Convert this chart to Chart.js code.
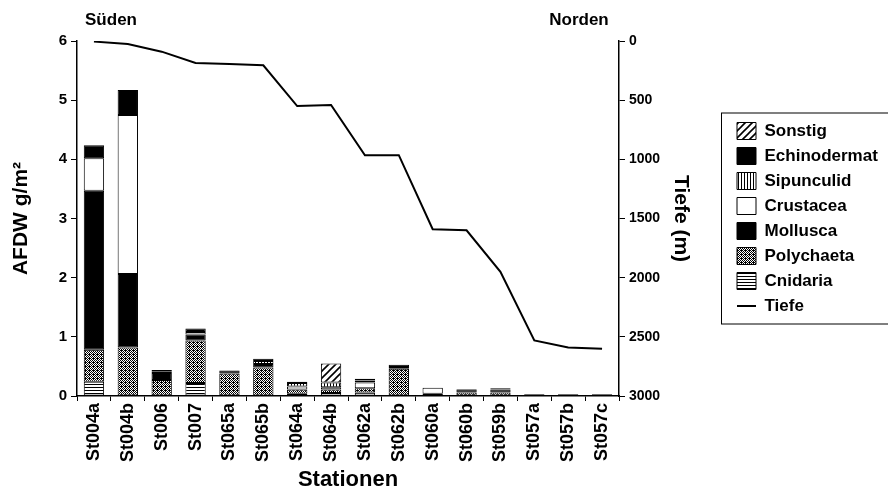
<!DOCTYPE html>
<html>
<head>
<meta charset="utf-8">
<script src="https://cdn.jsdelivr.net/npm/chart.js@4.4.1/dist/chart.umd.min.js"></script>
<style>
  html, body { margin: 0; padding: 0; background: #ffffff; }
  #wrap { width: 888px; height: 497px; }
</style>
</head>
<body>
<div id="wrap"><canvas id="c" width="888" height="497"></canvas></div>
<script>
// ---- data ----
const stations = ["St004a","St004b","St006","St007","St065a","St065b","St064a","St064b",
                  "St062a","St062b","St060a","St060b","St059b","St057a","St057b","St057c"];
const cnidaria     = [0.24, 0,    0,    0.22, 0,    0,    0.04, 0.05, 0.06, 0,    0,    0,    0,    0,    0,    0];
const polychaeta   = [0.54, 0.82, 0.27, 0.72, 0.38, 0.48, 0.07, 0.06, 0.07, 0.46, 0.04, 0.06, 0.06, 0.03, 0.01, 0.01];
const mollusca     = [2.69, 1.24, 0.12, 0.10, 0.05, 0.06, 0,    0,    0,    0,    0,    0.05, 0.05, 0,    0.02, 0.02];
const crustacea    = [0.55, 2.69, 0.02, 0.04, 0,    0,    0.05, 0.04, 0.10, 0,    0.10, 0,    0,    0,    0,    0];
const sipunculid   = [0,    0,    0,    0,    0,    0.05, 0.06, 0.08, 0.03, 0.03, 0,    0,    0,    0,    0,    0];
const echinodermat = [0.22, 0.42, 0.03, 0.06, 0,    0.04, 0.02, 0,    0.03, 0.04, 0,    0.01, 0.02, 0,    0,    0];
const sonstig      = [0,    0,    0,    0,    0,    0,    0,    0.32, 0,    0,    0,    0,    0,    0,    0,    0];
const tiefe        = [5, 25, 90, 185, 195, 205, 550, 540, 965, 965, 1590, 1600, 1950, 2530, 2590, 2600];
const leftTicks  = [0, 1, 2, 3, 4, 5, 6];
const rightTicks = [0, 500, 1000, 1500, 2000, 2500, 3000];

// ---- patterns ----
function makePattern(w, h, draw) {
  const c = document.createElement('canvas');
  c.width = w; c.height = h;
  const x = c.getContext('2d');
  x.fillStyle = '#ffffff'; x.fillRect(0, 0, w, h);
  x.fillStyle = '#000000'; x.strokeStyle = '#000000';
  draw(x);
  return document.getElementById('c').getContext('2d').createPattern(c, 'repeat');
}
const patCnidaria = makePattern(4, 3, x => { x.fillRect(0, 0, 4, 1); });
const patSipunculid = makePattern(3, 4, x => { x.fillRect(0, 0, 1, 4); });
const patPolychaeta = makePattern(4, 4, x => {
  const px = [[0,0],[2,0],[1,1],[3,1],[0,2],[2,2],[3,3],[1,3],[1,2]];
  px.forEach(p => x.fillRect(p[0], p[1], 1, 1));
});
const patSonstig = makePattern(7, 7, x => {
  x.lineWidth = 1.6;
  x.beginPath();
  x.moveTo(-1, 8); x.lineTo(8, -1);
  x.moveTo(-8, 8); x.lineTo(1, -1);
  x.moveTo(6, 8); x.lineTo(15, -1);
  x.stroke();
});

const FONT = "'Liberation Sans', Arial, Helvetica, sans-serif";
const LEGEND_W = 159;

function barSet(label, data, fill) {
  return {
    type: 'bar', label, data,
    backgroundColor: fill, borderColor: '#000000', borderWidth: 1,
    borderSkipped: false, yAxisID: 'y', stack: 's',
    categoryPercentage: 1.0, barPercentage: 0.6
  };
}

const datasets = [
  barSet('Cnidaria', cnidaria, patCnidaria),
  barSet('Polychaeta', polychaeta, patPolychaeta),
  barSet('Mollusca', mollusca, '#000000'),
  barSet('Crustacea', crustacea, '#ffffff'),
  barSet('Sipunculid', sipunculid, patSipunculid),
  barSet('Echinodermat', echinodermat, '#000000'),
  barSet('Sonstig', sonstig, patSonstig),
  {
    type: 'line', label: 'Tiefe', data: tiefe, yAxisID: 'y2',
    borderColor: '#000000', backgroundColor: '#000000', borderWidth: 2,
    pointRadius: 0, tension: 0, fill: false, order: -1
  }
];
const LINE_IDX = datasets.length - 1;

const extras = {
  id: 'extras',
  afterInit(chart) {
    const lg = chart.legend;
    if (lg && !lg._fixedW) {
      const proto = Object.getPrototypeOf(lg);
      lg.fit = function () { proto.fit.call(this); this.width = LEGEND_W; };
      lg._fixedW = true;
    }
  },
  afterDraw(chart) {
    const ctx = chart.ctx, a = chart.chartArea;
    ctx.save();
    ctx.fillStyle = '#000';
    ctx.font = "bold 17px " + FONT;
    ctx.textAlign = 'center';
    ctx.textBaseline = 'middle';
    ctx.fillText('Süden', a.left + 34, a.top - 21);
    ctx.fillText('Norden', a.right - 40, a.top - 21);
    // legend frame
    const lg = chart.legend;
    if (lg && lg.legendHitBoxes && lg.legendHitBoxes.length) {
      const hb = lg.legendHitBoxes;
      const top = hb[0].top - 10;
      const last = hb[hb.length - 1];
      const bottom = last.top + last.height + 9;
      ctx.strokeStyle = '#000';
      ctx.lineWidth = 1;
      ctx.strokeRect(lg.left - 7.5, top + 0.5, chart.width + 10, bottom - top);
    }
    ctx.restore();
  }
};

Chart.defaults.font.family = FONT;
Chart.defaults.color = '#000000';

new Chart(document.getElementById('c'), {
  data: { labels: stations, datasets },
  options: {
    responsive: false,
    animation: false,
    devicePixelRatio: 1,
    layout: { padding: { top: 41, left: 0, right: 0, bottom: 0 } },
    plugins: {
      tooltip: { enabled: false },
      legend: {
        position: 'right',
        fullSize: false,
        align: 'center',
        labels: {
          usePointStyle: true,
          pointStyleWidth: 19,
          boxHeight: 19,
          padding: 8,
          color: '#000',
          font: { family: FONT, size: 17, weight: 'bold' },
          generateLabels(chart) {
            const items = Chart.defaults.plugins.legend.labels.generateLabels(chart);
            items.forEach(it => {
              if (it.datasetIndex === LINE_IDX) {
                it.pointStyle = 'line';
                it.lineWidth = 2;
                it.strokeStyle = '#000';
              } else {
                it.pointStyle = 'rect';
                it.lineWidth = 1;
                it.strokeStyle = '#000';
              }
            });
            return items;
          },
          sort(a, b) {
            const k = it => it.datasetIndex === LINE_IDX ? 100 : -it.datasetIndex;
            return k(a) - k(b);
          }
        }
      }
    },
    scales: {
      x: {
        type: 'category',
        stacked: true,
        offset: true,
        grid: { display: true, drawOnChartArea: false, drawTicks: true, tickLength: 5, offset: true, color: '#000', lineWidth: 1 },
        border: { display: true, color: '#000', width: 1.5 },
        ticks: {
          autoSkip: false, minRotation: 90, maxRotation: 90, padding: 2,
          color: '#000', font: { family: FONT, size: 18, weight: 'bold' }
        },
        title: {
          display: true, text: 'Stationen', color: '#000',
          font: { family: FONT, size: 22, weight: 'bold' },
          padding: { top: 0, bottom: 4 }
        },
        afterFit(scale) { scale.height = 101; }
      },
      y: {
        type: 'linear', position: 'left', stacked: true,
        min: 0, max: 6,
        afterBuildTicks(scale) { scale.ticks = leftTicks.map(v => ({ value: v })); },
        grid: { display: true, drawOnChartArea: false, drawTicks: true, tickLength: 6, color: '#000' },
        border: { display: true, color: '#000', width: 1.5 },
        ticks: { padding: 4, color: '#000', font: { family: FONT, size: 15, weight: 'bold' } },
        title: {
          display: true, text: 'AFDW g/m²', color: '#000',
          font: { family: FONT, size: 21, weight: 'bold' },
          padding: { top: 9, bottom: 0 }
        },
        afterFit(scale) { scale.width = 77; }
      },
      y2: {
        type: 'linear', position: 'right', reverse: true,
        min: 0, max: 3000,
        afterBuildTicks(scale) { scale.ticks = rightTicks.map(v => ({ value: v })); },
        grid: { display: true, drawOnChartArea: false, drawTicks: true, tickLength: 6, color: '#000' },
        border: { display: true, color: '#000', width: 1.5 },
        ticks: {
          padding: 4, color: '#000', font: { family: FONT, size: 14, weight: 'bold' },
          callback: v => String(v)
        },
        title: {
          display: true, text: 'Tiefe (m)', color: '#000',
          font: { family: FONT, size: 21, weight: 'bold' },
          padding: { top: 36, bottom: 0 }
        },
        afterFit(scale) { scale.width = 110; }
      }
    }
  },
  plugins: [extras]
});
</script>
</body>
</html>
